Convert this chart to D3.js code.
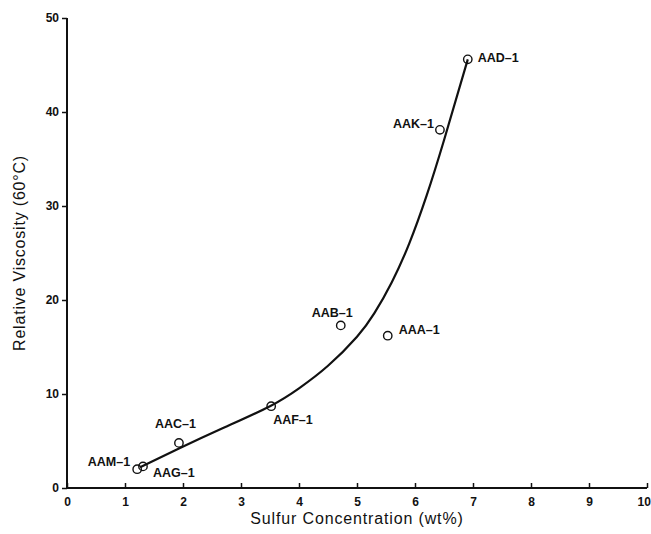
<!DOCTYPE html>
<html>
<head>
<meta charset="utf-8">
<script src="https://cdn.jsdelivr.net/npm/d3@7"></script>
<style>
  html, body { margin: 0; padding: 0; background: #fff; }
  svg { display: block; }
  text { font-family: "Liberation Sans", Arial, sans-serif; fill: #111; }
</style>
</head>
<body>
<svg id="chart" width="651" height="534"></svg>
<script>
// ---- data ----
const sampleNames = ["AAM-1", "AAG-1", "AAC-1", "AAF-1", "AAB-1", "AAA-1", "AAK-1", "AAD-1"];
const sulfur = [1.21, 1.31, 1.93, 3.52, 4.72, 5.53, 6.43, 6.91];
const viscosity = [2.0, 2.3, 4.8, 8.7, 17.3, 16.2, 38.1, 45.6];

// fitted curve
const curveSulfur = [1.26, 1.93, 2.7, 3.5, 4.0, 4.5, 5.0, 5.3, 5.6, 5.9, 6.2, 6.5, 6.91];
const curveViscosity = [2.2, 4.2, 6.4, 8.7, 10.6, 13.0, 16.1, 18.6, 21.9, 26.0, 31.1, 37.0, 45.6];

const xTicks = [0, 1, 2, 3, 4, 5, 6, 7, 8, 9, 10];
const yTicks = [0, 10, 20, 30, 40, 50];
const xTitle = "Sulfur Concentration (wt%)";
const yTitle = "Relative Viscosity (60°C)";

// label placement (pixel offsets, anchor)
const labelLayout = [
  { dx: -7, dy: -8, anchor: "end" },
  { dx: 10, dy: 6, anchor: "start" },
  { dx: -24, dy: -19, anchor: "start" },
  { dx: 2, dy: 13, anchor: "start" },
  { dx: -29, dy: -13, anchor: "start" },
  { dx: 11, dy: -6, anchor: "start" },
  { dx: -6, dy: -6, anchor: "end" },
  { dx: 10, dy: -2, anchor: "start" }
];

// ---- layout ----
const svg = d3.select("#chart");
const margin = { left: 67, right: 4, top: 18, bottom: 46 };
const W = 651, H = 534;
const x = d3.scaleLinear().domain([0, 10]).range([margin.left, W - margin.right]);
const y = d3.scaleLinear().domain([0, 50]).range([H - margin.bottom, margin.top]);

// axes
const xAxis = svg.append("g")
  .attr("transform", `translate(0,${y(0)})`)
  .call(d3.axisBottom(x).tickValues(xTicks).tickSize(-5).tickPadding(9).tickFormat(d3.format("d")));
const yAxis = svg.append("g")
  .attr("transform", `translate(${x(0)},0)`)
  .call(d3.axisLeft(y).tickValues(yTicks).tickSize(5).tickPadding(3).tickFormat(d3.format("d")));

[xAxis, yAxis].forEach(g => {
  g.select(".domain").attr("stroke", "#111").attr("stroke-width", 2);
  g.selectAll(".tick line").attr("stroke", "#111").attr("stroke-width", 1.5);
  g.selectAll(".tick text")
    .attr("font-family", "'Liberation Sans', Arial, sans-serif")
    .attr("font-size", 12).attr("font-weight", "bold").attr("fill", "#111");
});
xAxis.select(".domain").attr("d", `M${x(0)},0H${x(10)}`);
yAxis.select(".domain").attr("d", `M0,${y(0)}V${y(50)}`);
// keep last x tick label inside the window
xAxis.selectAll(".tick text").filter(d => d === 10).attr("text-anchor", "end").attr("dx", "0.28em");

// titles
svg.append("text")
  .attr("x", (x(0) + x(10)) / 2).attr("y", 524)
  .attr("text-anchor", "middle").attr("font-size", 16).attr("letter-spacing", 0.85)
  .text(xTitle);
svg.append("text")
  .attr("transform", `translate(25,${(y(0) + y(50)) / 2}) rotate(-90)`)
  .attr("text-anchor", "middle").attr("font-size", 16).attr("letter-spacing", 0.8)
  .text(yTitle);

// fitted curve
const curvePts = curveSulfur.map((s, i) => [s, curveViscosity[i]]);
svg.append("path")
  .datum(curvePts)
  .attr("fill", "none").attr("stroke", "#111").attr("stroke-width", 2.2)
  .attr("d", d3.line().x(d => x(d[0])).y(d => y(d[1])).curve(d3.curveNatural));

// points
const pts = sampleNames.map((n, i) => ({ name: n, s: sulfur[i], v: viscosity[i], lay: labelLayout[i] }));
svg.append("g").selectAll("circle").data(pts).join("circle")
  .attr("cx", d => x(d.s)).attr("cy", d => y(d.v)).attr("r", 4.2)
  .attr("fill", "none").attr("stroke", "#111").attr("stroke-width", 1.4);

svg.append("g").selectAll("text").data(pts).join("text")
  .attr("x", d => x(d.s) + d.lay.dx)
  .attr("y", d => y(d.v) + d.lay.dy)
  .attr("dy", "0.35em")
  .attr("text-anchor", d => d.lay.anchor)
  .attr("font-size", 12.5).attr("font-weight", "bold")
  .text(d => d.name.replace("-", "\u2013"));
</script>
</body>
</html>
